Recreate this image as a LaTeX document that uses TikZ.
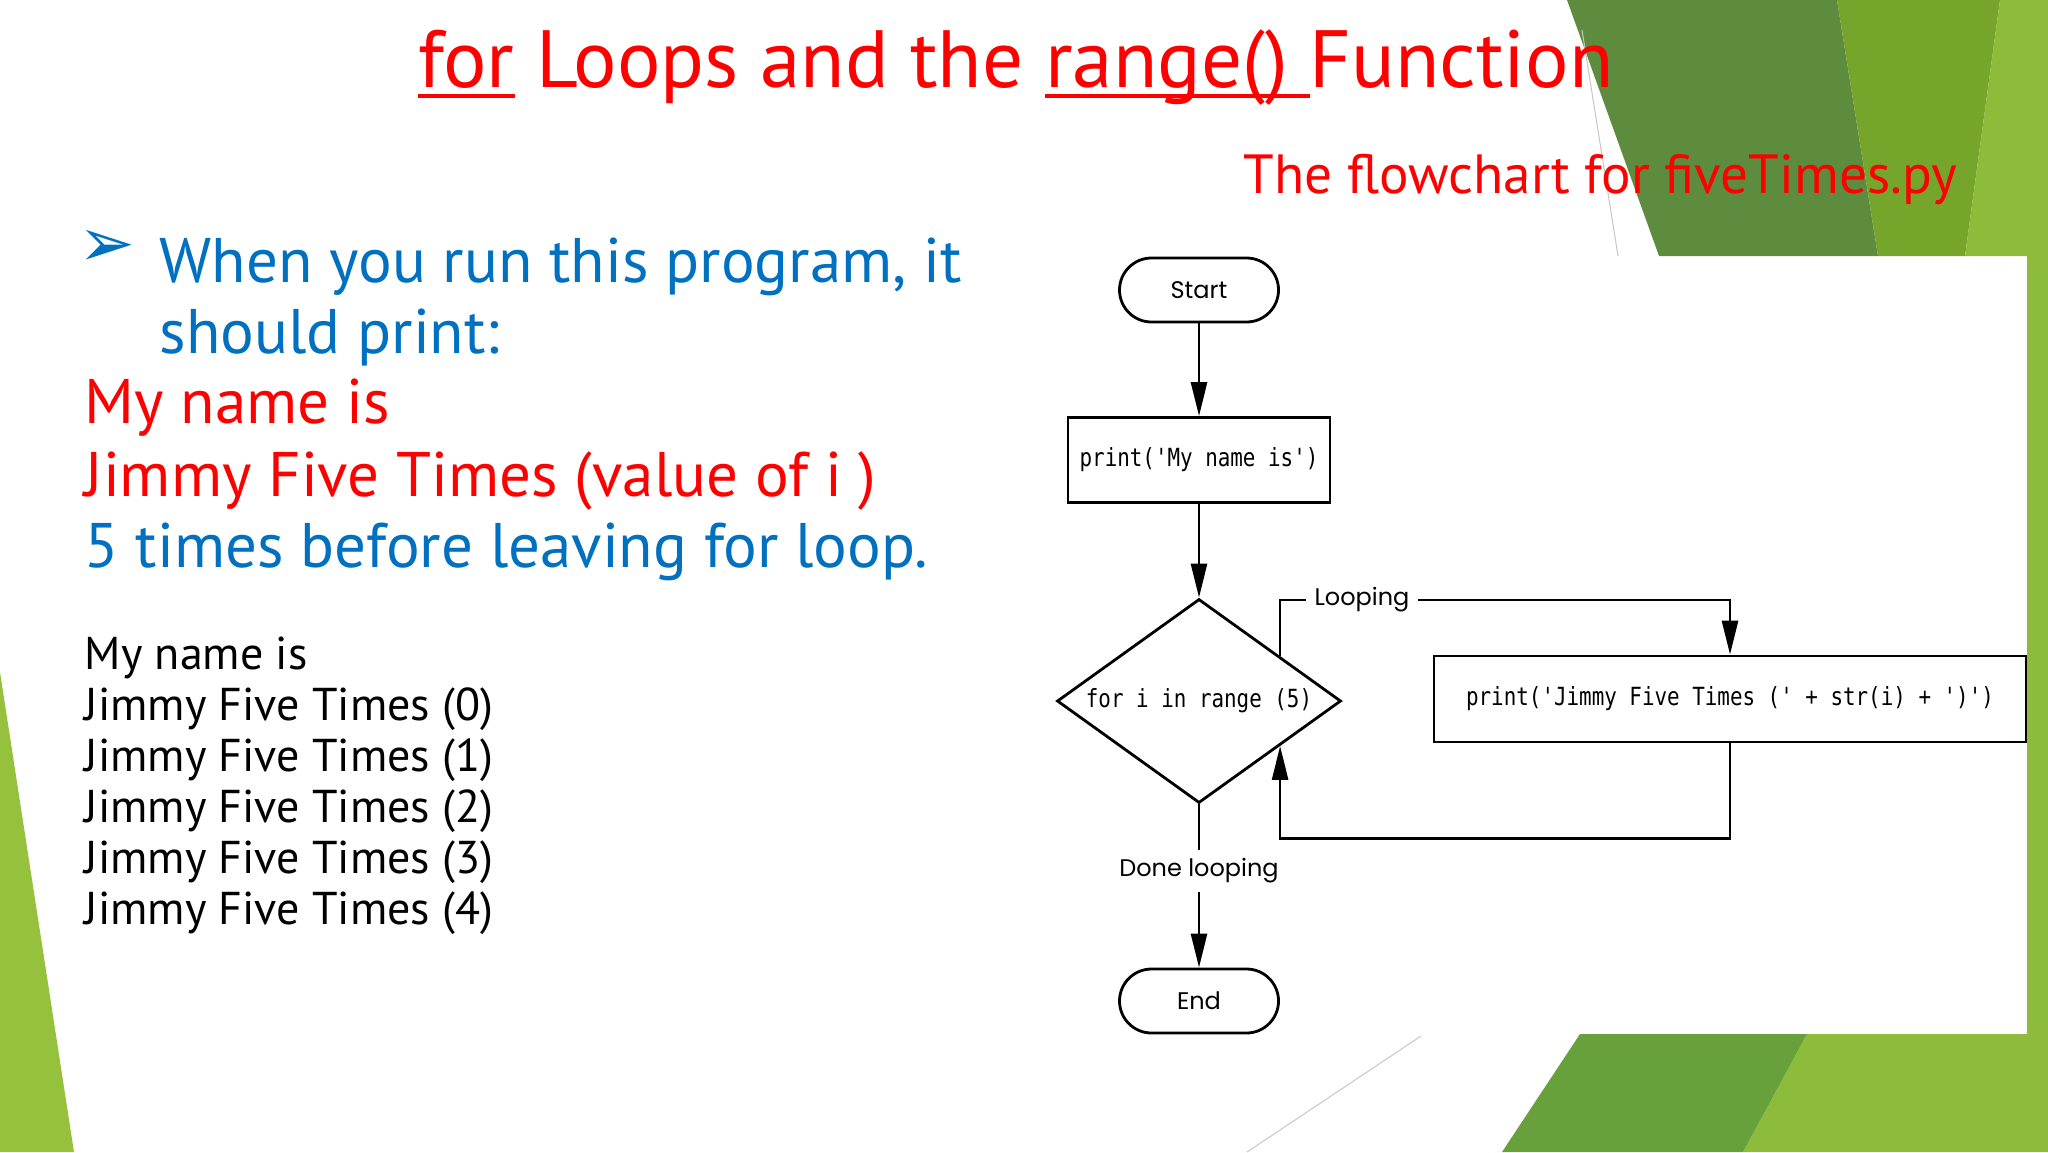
\documentclass[tikz,border=0pt]{standalone}
\usepackage{fontspec}
\setmainfont{PT Sans}
\newfontfamily\chartfont{Poppins}
\newfontfamily\codefont{DejaVu Sans Mono}[FakeStretch=0.835]
\newfontfamily\symfont{DejaVu Sans}
\usetikzlibrary{shapes.geometric,arrows.meta}

\definecolor{slidered}{RGB}{255,0,0}
\definecolor{slideblue}{RGB}{0,112,192}
\definecolor{darkleaf}{RGB}{94,140,62}
\definecolor{midleaf}{RGB}{118,165,43}
\definecolor{brightleaf}{RGB}{141,187,58}
\definecolor{lowleaf}{RGB}{104,160,60}
\definecolor{leftleaf}{RGB}{150,193,61}

\newcommand{\redunder}[1]{\setbox0\hbox{#1}\rlap{\rule[-0.13em]{\wd0}{0.045em}}\box0\relax}

\tikzset{every picture/.style={line width=0.75pt}}
\tikzset{
  terminal/.style={draw, line width=1.4pt, rounded corners=16pt, minimum width=79.5pt, minimum height=32pt, font=\chartfont\fontsize{12}{14}\selectfont},
  printbox/.style={draw, line width=1.4pt, inner sep=0pt, font=\codefont\fontsize{12.5}{14}\selectfont},
  decision/.style={draw, diamond, aspect=1.4, line width=1.4pt, inner sep=0pt, minimum width=142pt, minimum height=102pt, font=\codefont\fontsize{12.5}{14}\selectfont},
  flowline/.style={line width=1.3pt},
  flowarrow/.style={line width=1.3pt, -{Triangle[length=17pt,width=8pt]}},
  flowlabel/.style={inner sep=4pt, font=\chartfont\fontsize{12}{14}\selectfont},
  slidetext/.style={anchor=base west, inner sep=0pt, font=\fontsize{31.5}{38}\selectfont},
  listtext/.style={anchor=base west, inner sep=0pt, font=\fontsize{23}{28}\selectfont},
}

\begin{document}
\begin{tikzpicture}[x=0.5pt,y=0.5pt,yscale=-1,xscale=1]
\useasboundingbox (0,0) rectangle (2048,1152);

%Shape: slide background
\fill[white] (0,0) rectangle (2048,1152);
%Shape: green facets
\fill[darkleaf] (1567,0) -- (1837,0) -- (1878,256) -- (1659,256) -- cycle;
\fill[midleaf] (1837,0) -- (2000,0) -- (1965,256) -- (1878,256) -- cycle;
\fill[brightleaf] (2000,0) -- (2048,0) -- (2048,1152) -- (1743,1152) -- (1807,1034) -- (2027,1034) -- (2027,256) -- (1965,256) -- cycle;
\fill[lowleaf] (1502,1152) -- (1580,1034) -- (1807,1034) -- (1743,1152) -- cycle;
\fill[leftleaf] (0,672) -- (74,1152) -- (0,1152) -- cycle;
%Straight Lines: thin facet edges
\draw[gray!45, line width=0.5pt] (1582,30) -- (1618,256);
\draw[gray!45, line width=0.5pt] (1247,1152) -- (1421,1036);

% Text Node
\node[anchor=base, text=slidered, font=\fontsize{40.6}{49}\selectfont] (title) at (1016,87) {\redunder{for} Loops and the \redunder{range()\ }Function};
% Text Node
\node[anchor=base west, inner sep=0pt, text=slidered, font=\fontsize{27.6}{33}\selectfont] (subtitle) at (1243,193) {The flowchart for fiveTimes.py};

% Text Node
\node[text=slideblue, font=\symfont\fontsize{34}{40}\selectfont] (bullet) at (107,248) {➢};
\node[slidetext, text=slideblue] (runline) at (159,282) {When you run this program, it};
\node[slidetext, text=slideblue] (printline) at (159,353) {should print:};
\node[slidetext, text=slidered] (nameline) at (84,423) {My name is};
\node[slidetext, text=slidered] (valueline) at (84,496) {Jimmy Five Times (value of i )};
\node[slidetext, text=slideblue] (timesline) at (84,567) {5 times before leaving for loop.};

% Text Node
\node[listtext] (outname) at (84,669) {My name is};
\foreach \i in {0,...,4}
  \node[listtext] (out\i) at (84,{720+51*\i}) {Jimmy Five Times (\i)};

%Shape: flowchart
\node[terminal] (start) at (1199,290) {Start};
\node[printbox, minimum width=131pt, minimum height=42.5pt] (printname) at (1199,460) {print('My name is')};
\node[decision] (loop) at (1199,701) {for i in range (5)};
\node[printbox, minimum width=296pt, minimum height=43pt] (printjimmy) at (1730,699) {print('Jimmy Five Times (' + str(i) + ')')};
\node[flowlabel] (looplbl) at (1362,600) {Looping};
\node[flowlabel] (donelbl) at (1199,871) {Done looping};
\node[terminal] (stop) at (1199,1001) {End};

%Straight Lines
\draw[flowarrow] (start) -- (printname);
\draw[flowarrow] (printname) -- (loop);
\draw[flowline] (loop.29) |- (looplbl.west);
\draw[flowarrow] (looplbl.east) -| (printjimmy.north);
\draw[flowarrow] (printjimmy.south) -- ++(0,95) -| (loop.-29);
\draw[flowline] (loop.south) -- (donelbl);
\draw[flowarrow] (donelbl) -- (stop);

\end{tikzpicture}
\end{document}
